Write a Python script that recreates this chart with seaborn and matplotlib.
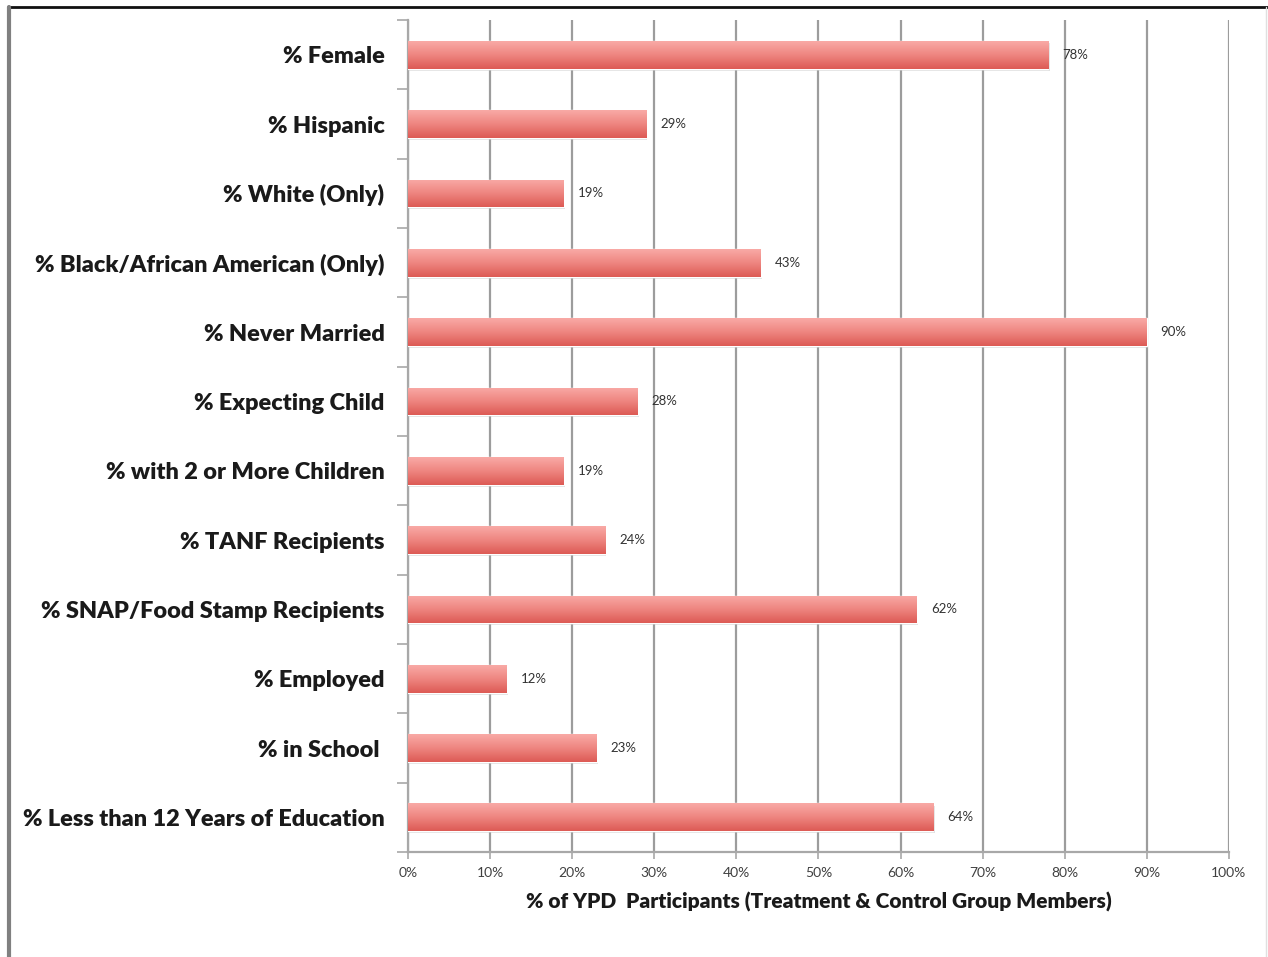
import numpy as np
import pandas as pd
import matplotlib
matplotlib.use("Agg")
import matplotlib.pyplot as plt
from matplotlib.ticker import FixedLocator, PercentFormatter
from matplotlib.lines import Line2D
import seaborn as sns

categories = [
    "% Female",
    "% Hispanic",
    "% White (Only)",
    "% Black/African American (Only)",
    "% Never Married",
    "% Expecting Child",
    "% with 2 or More Children",
    "% TANF Recipients",
    "% SNAP/Food Stamp Recipients",
    "% Employed",
    "% in School ",
    "% Less than 12 Years of Education",
]
values = [78, 29, 19, 43, 90, 28, 19, 24, 62, 12, 23, 64]
x_ticks = [0, 10, 20, 30, 40, 50, 60, 70, 80, 90, 100]
x_label = "% of YPD  Participants (Treatment & Control Group Members)"

df = pd.DataFrame({"category": categories, "value": values})

sns.set_theme(style="white")
plt.rcParams["font.family"] = ["Lato", "DejaVu Sans"]

fig = plt.figure(figsize=(12.68, 9.57), dpi=100)
ax = fig.add_axes([0.3218, 0.1097, 0.6474, 0.8693])

sns.barplot(data=df, x="value", y="category", order=categories,
            color="#E8706B", width=0.40, orient="h", ax=ax, zorder=3,
            saturation=1)

# vertical gradient on each bar: light top, darker bottom
grad = np.linspace(0, 1, 64).reshape(-1, 1)
cmap = matplotlib.colors.LinearSegmentedColormap.from_list(
    "bar", ["#F9AAA6", "#EE8580", "#DD5B55"])
for p in ax.patches:
    x0, y0 = p.get_x(), p.get_y()
    w, h = p.get_width(), p.get_height()
    # soft shadow just below the bar
    sh = plt.Rectangle((x0 + 0.15, y0 + 0.03), w, h, color="#bdbdbd",
                       alpha=0.45, zorder=2, lw=0)
    ax.add_patch(sh)
    im = ax.imshow(grad, cmap=cmap, aspect="auto",
                   extent=(x0, x0 + w, y0 + h, y0), zorder=4,
                   interpolation="bicubic")
    im.set_clip_path(p)

for i, v in enumerate(values):
    ax.annotate(f"{v}%", xy=(v, i), xytext=(10, 0), textcoords="offset points",
                ha="left", va="center", fontsize=9.5, color="#333333", zorder=5)

ax.set_xlim(0, 100)
ax.set_ylim(len(categories) - 0.5, -0.5)
ax.xaxis.set_major_locator(FixedLocator(x_ticks))
ax.xaxis.set_major_formatter(PercentFormatter(decimals=0))
ax.grid(axis="x", color="#9c9c9c", linewidth=1.6, zorder=1)
ax.grid(axis="y", visible=False)

for side in ["top", "right"]:
    ax.spines[side].set_visible(False)
for side in ["left", "bottom"]:
    ax.spines[side].set_color("#a8a8a8")
    ax.spines[side].set_linewidth(1.6)

ax.tick_params(axis="x", which="major", bottom=True, length=5, width=1.2,
               color="#a8a8a8", labelsize=10, labelcolor="#404040", pad=6)
ax.tick_params(axis="y", which="major", left=False, labelsize=16.9,
               pad=11)
ax.yaxis.set_minor_locator(FixedLocator(np.arange(-0.5, len(categories), 1)))
ax.tick_params(axis="y", which="minor", left=True, length=8, width=1.2,
               color="#a8a8a8")
for lab in ax.get_yticklabels():
    lab.set_fontweight("heavy")
    lab.set_color("#1a1a1a")

ax.set_ylabel("")
ax.set_xlabel(x_label, fontsize=15, fontweight="heavy", color="#1a1a1a",
              labelpad=9)

# page frame around the chart
fig.add_artist(Line2D([8 / 1268, 1], [1 - 7 / 957, 1 - 7 / 957],
                      transform=fig.transFigure, color="#111111", lw=2))
fig.add_artist(Line2D([9 / 1268, 9 / 1268], [0, 1 - 7 / 957],
                      transform=fig.transFigure, color="#808080", lw=3))
fig.add_artist(Line2D([1266 / 1268, 1266 / 1268], [0, 1 - 7 / 957],
                      transform=fig.transFigure, color="#e0e0e0", lw=1))

fig.savefig("out.png", dpi=100)
